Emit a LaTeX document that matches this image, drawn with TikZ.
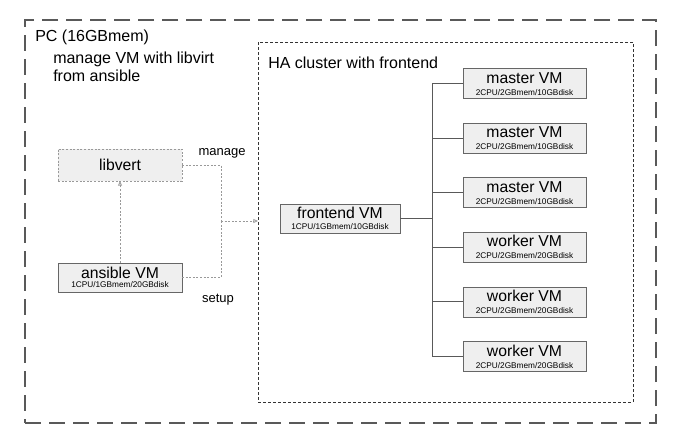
\documentclass[tikz,border=0pt]{standalone}
\usepackage{fontspec}
\setmainfont{Liberation Sans}
\usetikzlibrary{arrows.meta,positioning,matrix}
\definecolor{boxfill}{HTML}{EFEFEF}
\definecolor{boxline}{HTML}{666666}
\definecolor{dotline}{HTML}{999999}
\definecolor{frameline}{HTML}{595959}
\definecolor{haline}{HTML}{333333}
\newcommand{\vmspec}[1]{{\fontsize{6.2}{9}\selectfont #1}}

\begin{document}
\begin{tikzpicture}[x=0.75pt,y=-0.75pt,
vm/.style={rectangle,draw=boxline,fill=boxfill,align=center,inner sep=0pt,outer sep=0pt,minimum width=92.25pt,minimum height=22.5pt,font=\fontsize{11.8}{9}\selectfont},
vm_dotted/.style={vm,draw=dotline,dash pattern=on 1.5pt off 1.2pt},
pc_frame/.style={rectangle,draw=frameline,line width=1.5pt,dash pattern=on 12pt off 6pt,inner sep=0pt,outer sep=0pt,anchor=north west},
ha_frame/.style={rectangle,draw=haline,line width=0.7pt,dash pattern=on 2.25pt off 1.5pt,inner sep=0pt,outer sep=0pt,anchor=north west},
txt/.style={inner sep=0pt,anchor=base west,font=\fontsize{12}{14}\selectfont},
small_txt/.style={inner sep=0pt,anchor=base,font=\fontsize{9.75}{12}\selectfont},
bus_edge/.style={draw=frameline,line width=0.75pt},
ctrl_line/.style={draw=dotline,line width=0.6pt,dash pattern=on 1.5pt off 1.2pt},
ctrl_edge/.style={ctrl_line,-{Triangle[open,length=3.5pt,width=3pt]}}]
\useasboundingbox (0,0) rectangle (673,443);
\node (pc) [pc_frame,minimum width=473.25pt,minimum height=302.25pt] at (25,20) {};
\node (ha) [ha_frame,minimum width=281.25pt,minimum height=270pt] at (258,42) {};
\node (pc_title)[txt] at (35,41.5) {PC (16GBmem)};
\node (pc_note1)[txt] at (53,63.5) {manage VM with libvirt};
\node (pc_note2)[txt] at (53,81) {from ansible};
\node (ha_title)[txt] at (268,68) {HA cluster with frontend};
\node (lv)[vm_dotted,minimum width=93pt,minimum height=24pt] at (120,165) {libvert};
\node (ans)[vm,minimum width=93pt,minimum height=21.75pt,font=\fontsize{11.8}{7}\selectfont] at (120,277.5) {ansible VM\\\vmspec{1CPU/1GBmem/20GBdisk}};
\node (fe)[vm,minimum width=90pt,minimum height=21.75pt,font=\fontsize{11.8}{8.5}\selectfont] at (340,218.5) {frontend VM\\\vmspec{1CPU/1GBmem/10GBdisk}};
\matrix (cluster)[row sep=18pt,inner sep=0pt] at (524.5,220)
{
\node(m1)[vm]{master VM\\\vmspec{2CPU/2GBmem/10GBdisk}}; \\
\node(m2)[vm]{master VM\\\vmspec{2CPU/2GBmem/10GBdisk}}; \\
\node(m3)[vm]{master VM\\\vmspec{2CPU/2GBmem/10GBdisk}}; \\
\node(w1)[vm]{worker VM\\\vmspec{2CPU/2GBmem/20GBdisk}}; \\
\node(w2)[vm]{worker VM\\\vmspec{2CPU/2GBmem/20GBdisk}}; \\
\node(w3)[vm]{worker VM\\\vmspec{2CPU/2GBmem/20GBdisk}}; \\
};
\coordinate (bus) at (432,218.5);
\coordinate (split) at (221,221);
\draw [bus_edge] (fe.east) -- (fe.east -| bus);
\draw [bus_edge] (bus |- m1.west) -- (bus |- w3.west);
\foreach \vm in {m1,m2,m3,w1,w2,w3}
  \draw [bus_edge] (bus |- \vm.west) -- (\vm.west);
\draw [ctrl_line] (lv.east) -| (split);
\draw [ctrl_line] (ans.east) -| (split);
\draw [ctrl_edge] (split) -- (split -| ha.west);
\draw [ctrl_edge] (ans.north) -- (lv.south);
\node (manage_lbl)[small_txt] at (222,155) {manage};
\node (setup_lbl)[small_txt] at (218,302) {setup};
\end{tikzpicture}
\end{document}
